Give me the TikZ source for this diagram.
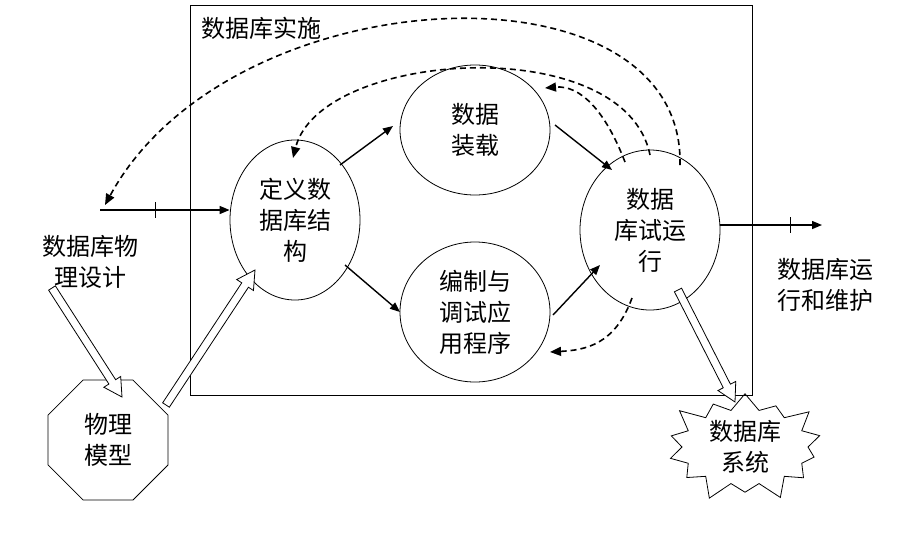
\documentclass[tikz,border=0pt]{standalone}
\usepackage{fontspec}
\setmainfont{Noto Sans CJK SC}
\usetikzlibrary{shapes.geometric,shapes.symbols,arrows.meta,calc}
\newcommand{\holarrow}[2]{%
  \coordinate (hb) at ($#2!18pt!#1$);
  \draw[line width=0.8pt,fill=white] ($#1!4pt!90:#2$) -- ($(hb)!4pt!-90:#1$) -- ($(hb)!10pt!-90:#1$) -- #2
   -- ($(hb)!10pt!90:#1$) -- ($(hb)!4pt!90:#1$) -- ($#1!4pt!-90:#2$) -- cycle;}
\begin{document}
\begin{tikzpicture}[x=1pt,y=-1pt,
  every node/.style={font=\fontsize{24}{31}\selectfont,align=center},
  ell/.style={draw,ellipse,line width=0.8pt,inner sep=0pt},
  arr/.style={-{Triangle[length=10pt,width=8pt]},line width=1.4pt},
  dsh/.style={-{Triangle[length=11pt,width=9pt]},line width=1.6pt,dash pattern=on 6pt off 4pt}]
\useasboundingbox (0,0) rectangle (910,547);
\draw[line width=0.8pt] (190,5) rectangle (752,395);
\node[anchor=west] (t) at (198,28) {数据库实施};
\node[ell,minimum width=150pt,minimum height=130pt] (zz) at (475,130) {数据\\装载};
\node[ell,minimum width=130pt,minimum height=160pt] (dy) at (295,220) {定义数\\据库结\\构};
\node[ell,minimum width=150pt,minimum height=140pt] (bz) at (475,312) {编制与\\调试应\\用程序};
\node[ell,minimum width=140pt,minimum height=160pt] (sy) at (650,230) {数据\\库试运\\行};
\node (wl) at (90,262) {数据库物\\理设计};
\node (yx) at (825,285) {数据库运\\行和维护};
\node[draw,regular polygon,regular polygon sides=8,minimum size=130pt,line width=0.8pt,inner sep=0pt] (mx) at (108,440) {物理\\模型};
\node[draw,starburst,starburst points=14,starburst point height=22pt,minimum width=170pt,minimum height=115pt,line width=0.8pt,inner sep=0pt] (xt) at (745,447) {数据库\\系统};
\coordinate (in) at (100,210);
\coordinate (out) at (822,225);
\draw[arr] (in) -- (dy.west|-in);
\draw (155,202) -- (155,218);
\draw[arr] (sy.east|-out) -- (out);
\draw (790,217) -- (790,233);
\draw[arr] (340,165) -- (393,126);
\draw[arr] (555,125) -- (612,170);
\draw[arr] (345,265) -- (400,312);
\draw[arr] (553,315) -- (600,265);
\draw[dsh] (625,162) .. controls (605,110) and (580,85) .. (545,88);
\draw[dsh] (650,155) .. controls (625,30) and (320,50) .. (293,158);
\draw[dsh] (680,165) .. controls (685,-45) and (230,-25) .. (105,205);
\draw[dsh] (632,298) .. controls (615,345) and (585,350) .. (550,352);
\coordinate (h1a) at (52,288); \coordinate (h1b) at (122,397);
\coordinate (h2a) at (166,405); \coordinate (h2b) at (255,270);
\coordinate (h3a) at (678,290); \coordinate (h3b) at (735,402);
\holarrow{(h1a)}{(h1b)}
\holarrow{(h2a)}{(h2b)}
\holarrow{(h3a)}{(h3b)}
\end{tikzpicture}
\end{document}
